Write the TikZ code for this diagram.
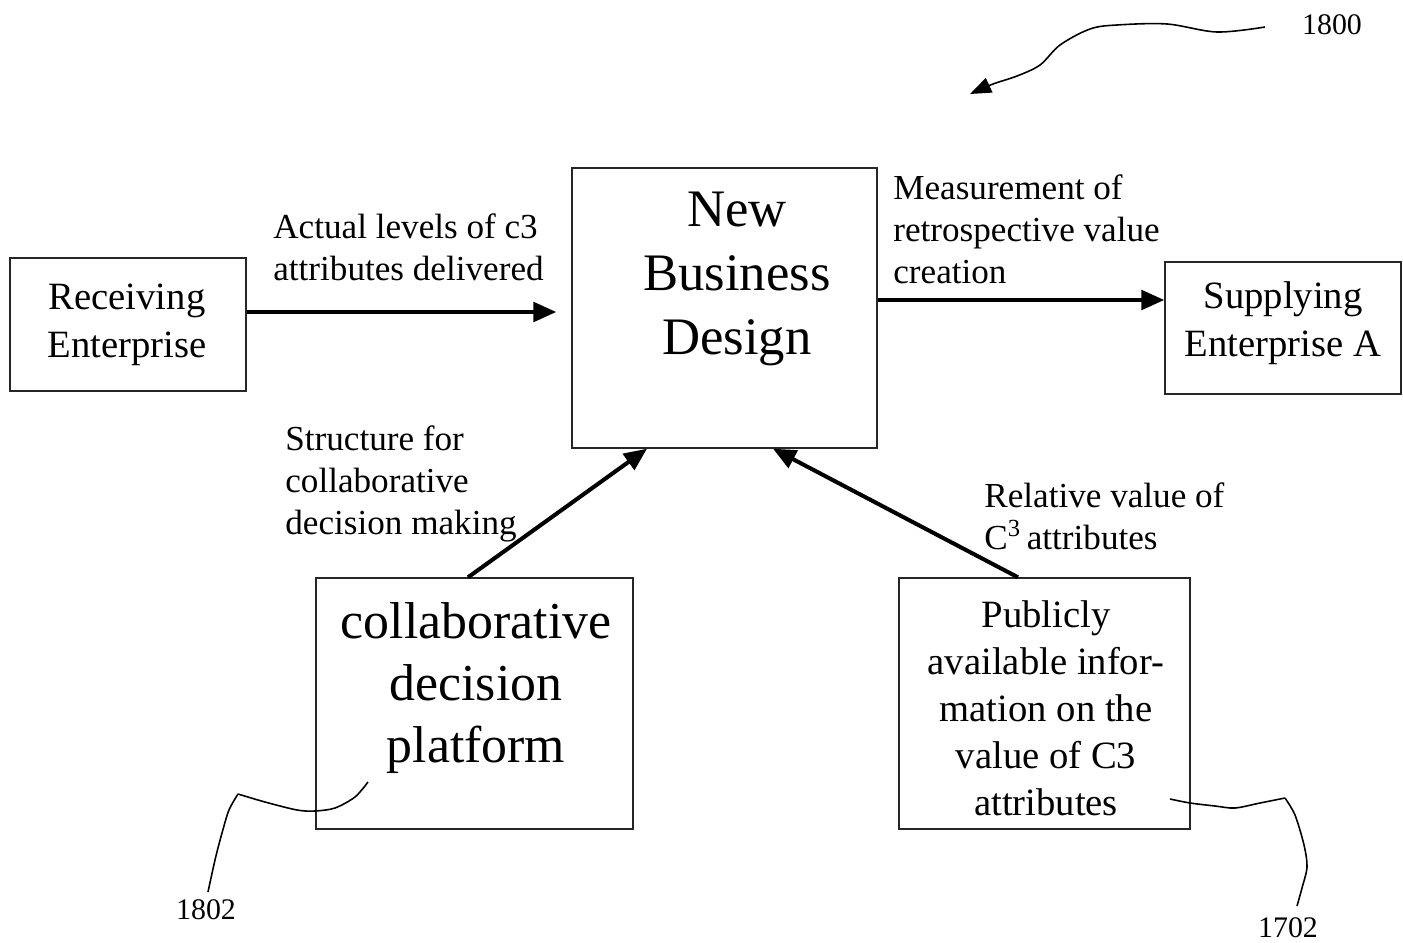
\documentclass[tikz,border=0pt]{standalone}
\usepackage{fontspec}
\setmainfont{Liberation Serif}
\usetikzlibrary{arrows.meta,calc}
\tikzset{
  box/.style={draw=black!85, line width=0.8pt, inner sep=0pt},
  lbl/.style={inner sep=0pt, align=left, font=\fontsize{20}{24}\selectfont},
  arr/.style={line width=2.3pt, -{Triangle[length=13pt,width=11pt]}},
  lead/.style={line width=0.9pt},
  refnum/.style={inner sep=0pt, font=\fontsize{17}{20}\selectfont}
}
\begin{document}
\begin{tikzpicture}[x=0.02cm,y=-0.02cm]
\useasboundingbox (0,0) rectangle (1403,943);
% boxes
\node[box, minimum width=4.72cm, minimum height=2.66cm] (rec) at (128,324.5) {};
\node[align=center, inner sep=0pt, font=\fontsize{22}{27}\selectfont] (rect) at (127,325) {Receiving\\Enterprise};
\node[box, minimum width=6.1cm, minimum height=5.6cm] (nbd) at (724.5,308) {};
\node[align=center, inner sep=0pt, font=\fontsize{30}{36.3}\selectfont] (nbdt) at (737,279) {New\\Business\\Design};
\node[box, minimum width=4.72cm, minimum height=2.64cm] (sup) at (1283,328) {};
\node[align=center, inner sep=0pt, font=\fontsize{22}{27}\selectfont] (supt) at (1283,323) {Supplying\\Enterprise A};
\node[box, minimum width=6.34cm, minimum height=5.02cm] (col) at (474.5,703.5) {};
\node[align=center, inner sep=0pt, font=\fontsize{29.5}{35.2}\selectfont] (colt) at (476,688) {collaborative\\decision\\platform};
\node[box, minimum width=5.82cm, minimum height=5.02cm] (pub) at (1044.5,703.5) {};
\node[align=center, inner sep=0pt, font=\fontsize{22}{26.7}\selectfont] (pubt) at (1046,708) {Publicly\\available infor-\\mation on the\\value of C3\\attributes};
% arrows
\draw[arr, shorten >=0.3cm] (rec.east |- {(0,312)}) -- (nbd.west |- {(0,312)});
\draw[arr] (nbd.east |- {(0,300)}) -- (sup.west |- {(0,300)});
\draw[arr] ([xshift=-0.13cm]col.north) -- ([xshift=-1.55cm]nbd.south);
\draw[arr] ([xshift=-0.53cm]pub.north) -- ([xshift=0.97cm]nbd.south);
% labels
\node[lbl, anchor=west] (l1) at (273,247) {Actual levels of c3\\attributes delivered};
\node[lbl, anchor=west] (l2) at (893,229) {Measurement of\\retrospective value\\creation};
\node[lbl, anchor=west] (l3) at (285,484) {Structure for\\collaborative\\decision making};
\node[lbl, anchor=west] (l4) at (984,516) {Relative value of\\C\textsuperscript{\fontsize{14}{14}\selectfont 3}\,attributes};
% reference numbers
\node[refnum] (n1800) at (1332,25) {1800};
\node[refnum] (n1802) at (206,910) {1802};
\node[refnum] (n1702) at (1288,928) {1702};
\draw[lead, -{Triangle[length=12pt,width=9pt]}] plot[smooth, tension=0.55] coordinates {(1265,27) (1217,32) (1167,24) (1117,25) (1090,29) (1060,45) (1040,65) (1017,76) (993,84) (970,94)};
\draw[lead] plot[smooth, tension=0.5] coordinates {(368,782) (355,797) (335,808) (315,811) (297,810) (265,802) (238,794)};
\draw[lead] plot[smooth, tension=0.5] coordinates {(238,794) (229,810) (222,833) (215,860) (208,892)};
\draw[lead] plot[smooth, tension=0.5] coordinates {(1170,799) (1190,803) (1215,806) (1235,808) (1260,803) (1285,798)};
\draw[lead] plot[smooth, tension=0.5] coordinates {(1285,798) (1295,815) (1304,845) (1307,867) (1302,888) (1297,906)};
\end{tikzpicture}
\end{document}
